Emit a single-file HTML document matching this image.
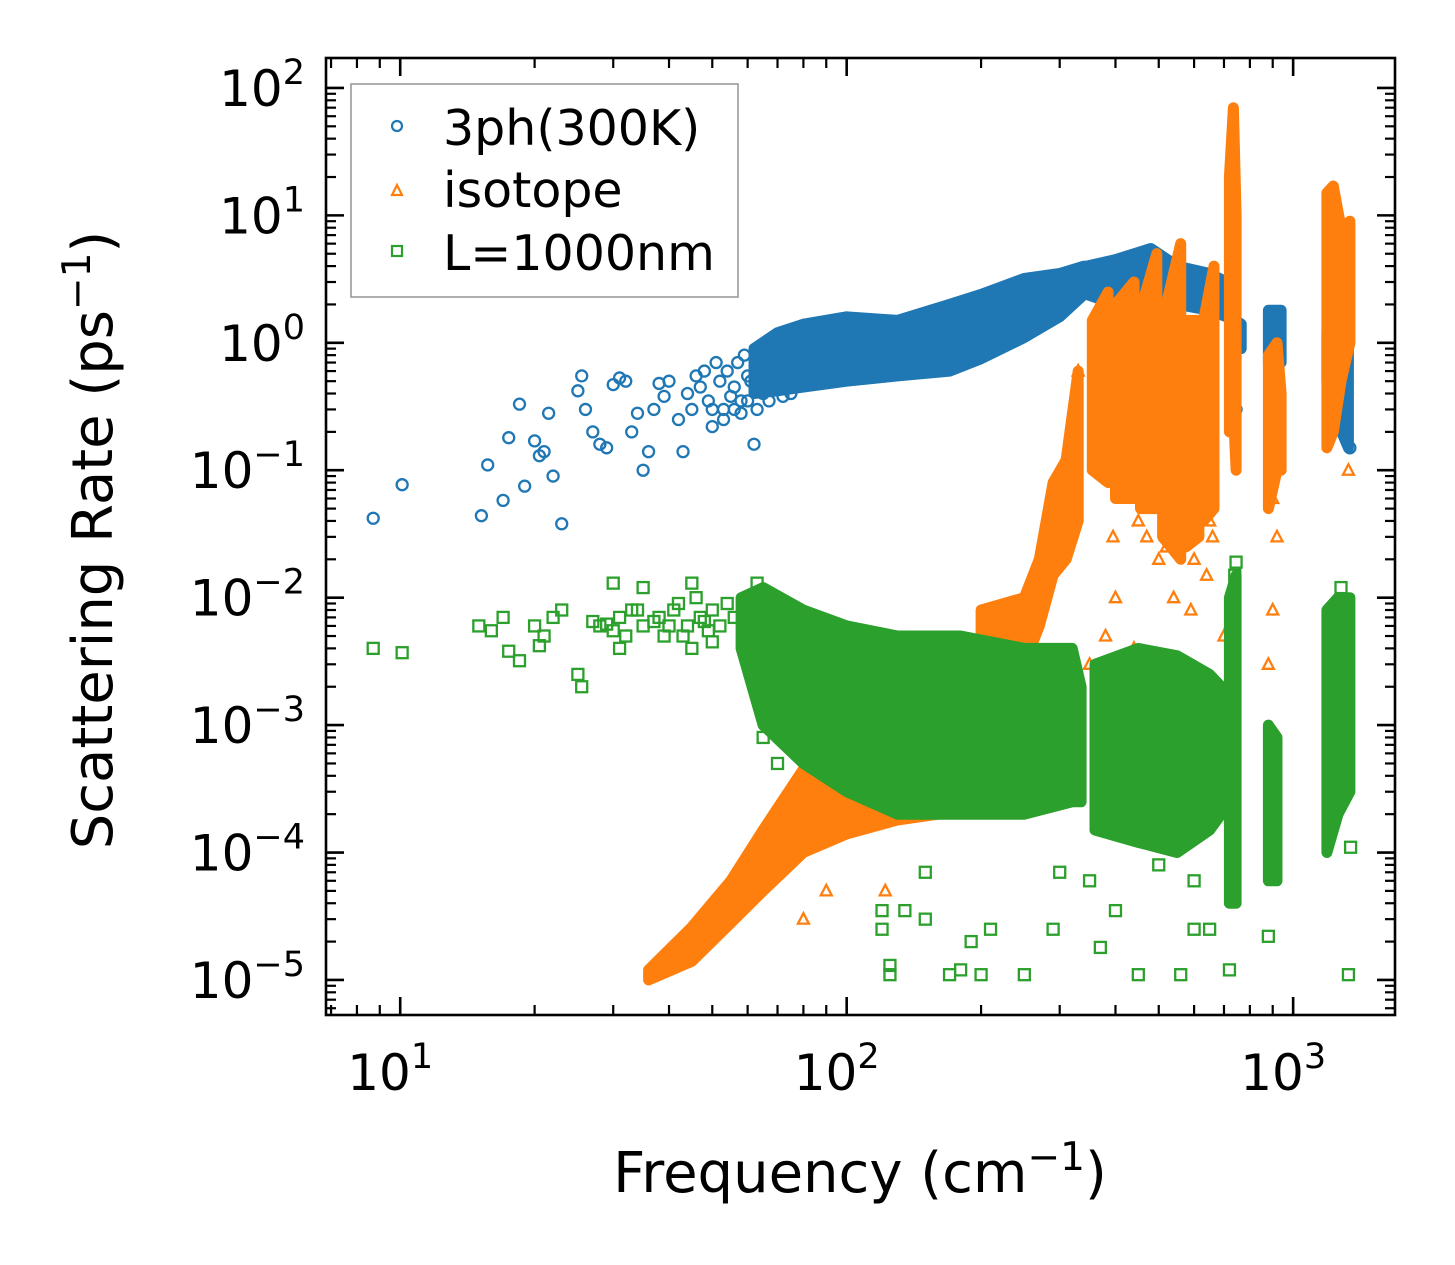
<!DOCTYPE html>
<html><head><meta charset="utf-8"><style>
html,body{margin:0;padding:0;background:#fff;}
svg{display:block;font-family:"DejaVu Sans","Liberation Sans",sans-serif;}
</style></head><body>
<svg id="chart" width="1455" height="1265" viewBox="0 0 1455 1265" xmlns="http://www.w3.org/2000/svg">
<g id="marks"></g>
<g id="axes"></g>
<g id="legend">
<rect x="351" y="84" width="387" height="213" fill="#fff" fill-opacity="0.8" stroke="#999" stroke-width="1.6"/>
<g><circle cx="397" cy="126" r="5" fill="none" stroke="#1f77b4" stroke-width="2.2"/><text x="443" y="145" font-size="49">3ph(300K)</text></g>
<g><path d="M392,195 L397,185 L402,195 Z" fill="none" stroke="#ff7f0e" stroke-width="2.2"/><text x="443" y="207" font-size="49">isotope</text></g>
<g><rect x="392" y="246" width="10" height="10" fill="none" stroke="#2ca02c" stroke-width="2.2"/><text x="443" y="270" font-size="49">L=1000nm</text></g>
</g>
<text x="860" y="1192" font-size="56" text-anchor="middle">Frequency (cm<tspan dy="-22" font-size="39">−1</tspan><tspan dy="22">)</tspan></text>
<text transform="translate(112,540) rotate(-90)" font-size="56" text-anchor="middle">Scattering Rate (ps<tspan dy="-22" font-size="39">−1</tspan><tspan dy="22">)</tspan></text>
</svg>
<script>
const xTickExps = [1, 2, 3];
const yTickExps = [2, 1, 0, -1, -2, -3, -4, -5];
const xTickLabels = ['1', '2', '3'];
const yTickLabels = ['2', '1', '0', '−1', '−2', '−3', '−4', '−5'];
// dense clusters: [freq, low, high]
const blueClusters = [
 [[62,0.4,0.9],[70,0.42,1.2],[80,0.45,1.4],[100,0.5,1.6],[130,0.55,1.5],[170,0.6,2.0],[200,0.75,2.4],[250,1.1,3.2],[300,1.6,3.5],[340,2.4,4]],
 [[345,2.4,4],[400,2,4.5],[480,2.4,5.5],[550,2,4],[650,1.8,3.5],[710,1.6,3]],
 [[745,0.9,1.5],[765,0.9,1.4]],
 [[880,0.7,1.8],[940,0.7,1.8]],
 [[1190,0.5,1.2],[1250,0.25,1.2],[1330,0.15,1.2]]
];
const blueSparseX = [8.7,10.1,15.2,15.7,17,17.5,18.5,19,20,20.5,21,21.5,22,23,25,25.5,26,27,28,29,30,31,32,33,34,35,36,37,38,39,40,42,43,45,47,48,50,55,60,62,740,745,1210,1340,
 44,46,49,51,52,53,54,56,57,58,59,61,64,66,68,50,53,56,58,60,63,65,67,72,75];
const blueSparseY = [0.042,0.077,0.044,0.11,0.058,0.18,0.33,0.075,0.17,0.13,0.14,0.28,0.09,0.038,0.42,0.55,0.3,0.2,0.16,0.15,0.47,0.53,0.5,0.2,0.28,0.1,0.14,0.3,0.48,0.38,0.5,0.25,0.14,0.3,0.45,0.6,0.22,0.38,0.55,0.16,0.5,0.3,1.8,0.15,
 0.4,0.55,0.35,0.7,0.5,0.3,0.6,0.45,0.7,0.35,0.8,0.5,0.6,0.9,0.7,0.3,0.25,0.3,0.28,0.35,0.3,0.4,0.35,0.38,0.4];
const orangeClusters = [
 [[36,1e-5,1.2e-5],[45,1.4e-5,2.6e-5],[55,2.8e-5,6e-5],[65,5e-5,1.5e-4],[80,1e-4,4.5e-4],[100,1.4e-4,4.8e-4],[130,1.8e-4,5e-4],[160,2e-4,4e-4]],
 [[200,2.5e-3,8e-3],[250,3e-3,1e-2],[270,6e-3,2e-2],[290,1.5e-2,0.08],[310,0.02,0.12],[330,0.04,0.6]],
 [[355,0.1,1.5],[385,0.08,2.5]],[[400,0.06,2],[440,0.06,3]],[[455,0.05,1.8],[495,0.05,5]],
 [[510,0.03,1.5],[560,0.02,6]],[[575,0.025,1.5],[615,0.03,1.5]],[[630,0.04,1.5],[665,0.05,4]],
 [[720,0.2,20],[735,0.3,70],[745,0.1,10]],
 [[880,0.05,0.8],[920,0.1,1],[940,0.1,0.4]],
 [[1190,0.15,15],[1230,0.2,17],[1280,0.5,8],[1340,1,9]]
];
const orangeSparseX = [122,90,80,300,220,350,380,400,440,470,500,540,590,640,660,690,700,880,900,920,330,395,450,520,600,650,900,1330];
const orangeSparseY = [5e-5,5e-5,3e-5,0.08,8e-3,3e-3,5e-3,1e-2,4e-3,0.03,0.02,0.01,0.008,0.015,0.03,0.001,5e-3,0.003,0.008,0.03,0.6,0.03,0.04,0.025,0.02,0.04,0.06,0.1];
const greenClusters = [
 [[58,4e-3,1e-2],[65,1e-3,1.2e-2],[80,5e-4,8e-3],[100,3e-4,6e-3],[130,2e-4,5e-3],[180,2e-4,5e-3],[250,2e-4,4e-3],[320,2.5e-4,4e-3],[335,2.5e-4,2e-3]],
 [[360,1.5e-4,3e-3],[450,1.2e-4,4e-3],[550,1e-4,3.5e-3],[650,1.5e-4,2.5e-3],[690,2e-4,2e-3]],
 [[720,4e-5,1e-2],[745,4e-5,1.5e-2]],
 [[880,6e-5,1e-3],[920,6e-5,8e-4]],
 [[1190,1e-4,8e-3],[1260,2e-4,1e-2],[1340,3e-4,1e-2]]
];
const greenSparseX = [8.7,10.1,15,16,17,17.5,18.5,20,20.5,21,22,23,25,25.5,30,35,45,63,65,70,120,120,125,125,135,150,170,180,190,200,210,250,290,370,400,450,560,600,650,720,880,1330,1345,150,300,350,500,600,740,745,1280,
 27,28,29,30,31,32,33,35,37,38,40,41,42,43,44,46,47,48,49,50,52,54,56,31,34,39,45,50];
const greenSparseY = [4e-3,3.7e-3,6e-3,5.5e-3,7e-3,3.8e-3,3.2e-3,6e-3,4.2e-3,5e-3,7e-3,8e-3,2.5e-3,2e-3,1.3e-2,1.2e-2,1.3e-2,1.3e-2,8e-4,5e-4,3.5e-5,2.5e-5,1.3e-5,1.1e-5,3.5e-5,3e-5,1.1e-5,1.2e-5,2e-5,1.1e-5,2.5e-5,1.1e-5,2.5e-5,1.8e-5,3.5e-5,1.1e-5,1.1e-5,2.5e-5,2.5e-5,1.2e-5,2.2e-5,1.1e-5,1.1e-4,7e-5,7e-5,6e-5,8e-5,6e-5,1.5e-2,1.9e-2,1.2e-2,
 6.5e-3,6e-3,6.2e-3,5.5e-3,7e-3,5e-3,8e-3,6e-3,6.5e-3,7e-3,6e-3,8e-3,9e-3,5e-3,6e-3,1e-2,7e-3,6.5e-3,5.5e-3,8e-3,6e-3,9e-3,7e-3,4e-3,8e-3,5e-3,4e-3,4.5e-3];

const L=326,R=1395,T=58,B=1015;
const xmin=Math.log10(6.82), xmax=Math.log10(1691), ymin=-5.275, ymax=2.235;
const sx=v=>L+(Math.log10(v)-xmin)/(xmax-xmin)*(R-L);
const sy=v=>B-(Math.log10(v)-ymin)/(ymax-ymin)*(B-T);
const NS='http://www.w3.org/2000/svg';
const marks=document.getElementById('marks'), axes=document.getElementById('axes');
function mk(tag,attrs,parent){const e=document.createElementNS(NS,tag);for(const k in attrs)e.setAttribute(k,attrs[k]);parent.appendChild(e);return e;}
function drawSeries(clusters,xs,ys,color,shape,name){
 const g=mk('g',{},marks);
 
 
 clusters.forEach(c=>{
  const top=c.map(p=>sx(p[0]).toFixed(1)+','+sy(p[2]).toFixed(1));
  const bot=c.slice().reverse().map(p=>sx(p[0]).toFixed(1)+','+sy(p[1]).toFixed(1));
  const poly=mk('polygon',{points:top.concat(bot).join(' '),fill:color,stroke:color,'stroke-width':11,'stroke-linejoin':'round'},g);
  
  
 });
 xs.forEach((x,i)=>{
  const px=sx(x), py=sy(ys[i]); let m;
  if(shape==='circle') m=mk('circle',{cx:px,cy:py,r:5.5,fill:'none',stroke:color,'stroke-width':2.3},g);
  else if(shape==='tri') m=mk('path',{d:`M${px-5.5},${py+4.5} L${px},${py-6} L${px+5.5},${py+4.5} Z`,fill:'none',stroke:color,'stroke-width':2.3},g);
  else m=mk('rect',{x:px-5.5,y:py-5.5,width:11,height:11,fill:'none',stroke:color,'stroke-width':2.3},g);
  
  
 });
}
drawSeries(blueClusters,blueSparseX,blueSparseY,'#1f77b4','circle','3ph');
drawSeries(orangeClusters,orangeSparseX,orangeSparseY,'#ff7f0e','tri','isotope');
drawSeries(greenClusters,greenSparseX,greenSparseY,'#2ca02c','square','boundary');

const fr=mk('rect',{x:L,y:T,width:R-L,height:B-T,fill:'none',stroke:'#000','stroke-width':2.6},axes);


function tick(x1,y1,x2,y2,w){mk('line',{x1,y1,x2,y2,stroke:'#000','stroke-width':w},axes);}
for(let e=0;e<=3;e++){for(let m=1;m<=9;m++){const v=m*Math.pow(10,e);const lv=Math.log10(v);if(lv<xmin||lv>xmax)continue;const x=sx(v);const len=m===1?18:10;const w=m===1?2.6:2.2;tick(x,B,x,B-len,w);tick(x,T,x,T+len,w);}}
for(let e=-6;e<=2;e++){for(let m=1;m<=9;m++){const v=m*Math.pow(10,e);const lv=Math.log10(v);if(lv<ymin||lv>ymax)continue;const y=sy(v);const len=m===1?18:10;const w=m===1?2.6:2.2;tick(L,y,L+len,y,w);tick(R,y,R-len,y,w);}}
xTickExps.forEach((e,i)=>{
 const t=mk('text',{x:sx(Math.pow(10,e))-10,y:1090,'font-size':50,'text-anchor':'middle'},axes);
 
 
 t.innerHTML='10<tspan dy="-22" font-size="35">'+xTickLabels[i]+'</tspan>';
});
yTickExps.forEach((e,i)=>{
 const t=mk('text',{x:305,y:sy(Math.pow(10,e))+18,'font-size':50,'text-anchor':'end'},axes);
 
 
 t.innerHTML='10<tspan dy="-22" font-size="35">'+yTickLabels[i]+'</tspan>';
});
</script>
</body></html>
